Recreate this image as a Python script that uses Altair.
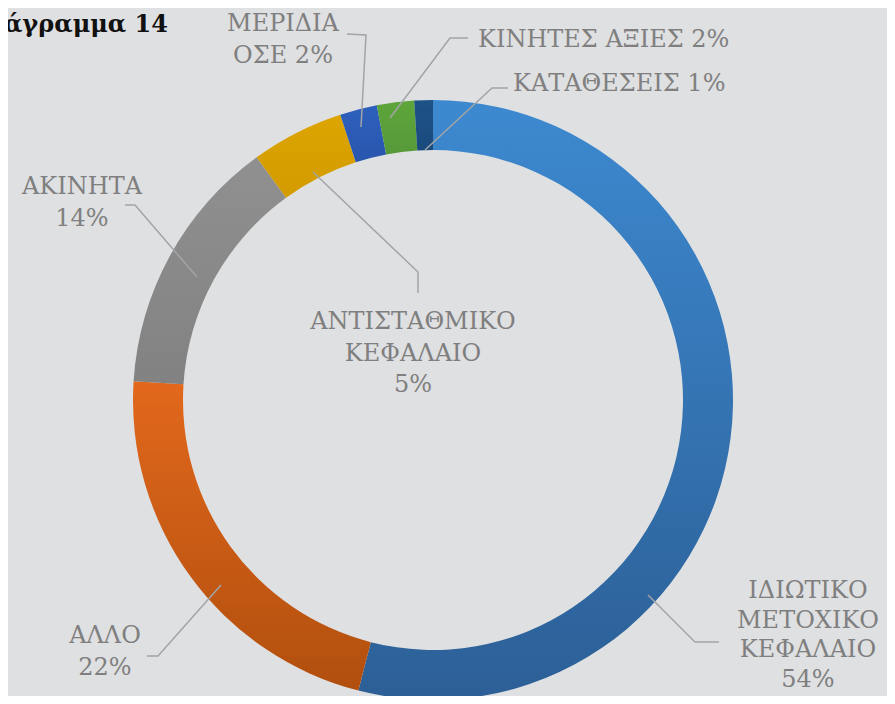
import altair as alt
import pandas as pd
import math

# ---- data ----
categories = ["ΙΔΙΩΤΙΚΟ ΜΕΤΟΧΙΚΟ ΚΕΦΑΛΑΙΟ", "ΑΛΛΟ", "ΑΚΙΝΗΤΑ",
              "ΑΝΤΙΣΤΑΘΜΙΚΟ ΚΕΦΑΛΑΙΟ", "ΜΕΡΙΔΙΑ ΟΣΕ", "ΚΙΝΗΤΕΣ ΑΞΙΕΣ", "ΚΑΤΑΘΕΣΕΙΣ"]
values = [54, 22, 14, 5, 2, 2, 1]
colors_top = ["#3d89d0", "#e2681c", "#909090", "#dca500", "#2d60bd", "#5ea53a", "#1d5288"]
colors_bottom = ["#2c5f96", "#b14f0e", "#828282", "#d39b00", "#2956ad", "#57993a", "#1a4a7c"]
title_text = "Διάγραμμα 14"

# ---- layout (page pixel coordinates) ----
W, H = 879, 688
CX, CY = 433, 400
label_mode = ["words", "words", "words", "words", "last_inline", "inline", "inline"]
label_pos = [(808, 598, "center"), (105, 643, "center"), (82, 194, "center"),
             (413, 329, "center"), (283, 31, "center"), (478, 47, "left"), (513, 91, "left")]
label_lh = [29.5, 31.5, 31.5, 31.5, 31.5, 31.5, 31.5]
leaders = [
    [(648, 595), (695, 642), (719, 642)],
    [(221, 585), (158, 656), (147, 656)],
    [(197, 277), (135, 205), (125, 205)],
    [(313, 172), (418, 272), (418, 293)],
    [(361, 127), (366, 35), (347, 34)],
    [(390, 118), (450, 38), (468, 38)],
    [(425, 150), (492, 88), (508, 88)],
]


def label_for(cat, v, mode):
    words = cat.split(" ")
    pct = f"{v}%"
    if mode == "words":
        return "\n".join(words + [pct])
    if mode == "last_inline":
        return "\n".join(words[:-1] + [words[-1] + " " + pct])
    return cat + " " + pct


slices = pd.DataFrame({"cat": categories, "value": values, "order": range(len(values))})
total = sum(values)

xs = alt.Scale(domain=[8, 8 + W], range=[0, W])
ys = alt.Scale(domain=[8, 8 + H], range=[0, H])
ts = alt.Scale(domain=[0, total], range=[0, 2 * math.pi])
FONT = "DejaVu Serif"

base = alt.Chart(slices).transform_window(
    cum="sum(value)", sort=[alt.SortField("order")], frame=[None, 0]
).transform_calculate(start="datum.cum - datum.value")

layers = []
for i in range(len(values)):
    grad = {"gradient": "linear", "x1": 0, "y1": 0, "x2": 0, "y2": 1,
            "stops": [{"offset": 0, "color": colors_top[i]}, {"offset": 1, "color": colors_bottom[i]}]}
    layers.append(
        base.transform_filter(alt.datum.order == i).mark_arc(
            outerRadius=300, innerRadius=250, fill=grad, stroke=None
        ).encode(
            theta=alt.Theta("start:Q", scale=ts),
            theta2="cum:Q",
            x=alt.value(CX - 8),
            y=alt.value(CY - 8),
        )
    )

lead_rows = []
for i, pts in enumerate(leaders):
    for j, (x, y) in enumerate(pts):
        lead_rows.append({"id": i, "k": j, "x": x, "y": y})
lead = pd.DataFrame(lead_rows)

layers.append(alt.Chart(lead).mark_line(color="#a3a4a6", strokeWidth=1.5).encode(
    x=alt.X("x:Q", scale=xs, axis=None),
    y=alt.Y("y:Q", scale=ys, axis=None),
    detail="id:N",
    order="k:Q",
))

for i in range(len(values)):
    x, y, align = label_pos[i]
    df = pd.DataFrame({"text": [label_for(categories[i], values[i], label_mode[i])], "x": [x], "y": [y]})
    layers.append(alt.Chart(df).mark_text(
        font=FONT, fontSize=24, color="#7f7f7f", align=align, baseline="alphabetic",
        lineBreak="\n", lineHeight=label_lh[i],
    ).encode(
        x=alt.X("x:Q", scale=xs, axis=None),
        y=alt.Y("y:Q", scale=ys, axis=None),
        text="text:N",
    ))

title_df = pd.DataFrame({"t": [title_text], "x": [168], "y": [32]})
layers.append(alt.Chart(title_df).mark_text(
    font=FONT, fontSize=24, fontWeight="bold", color="#111111", align="right", baseline="alphabetic"
).encode(
    x=alt.X("x:Q", scale=xs, axis=None),
    y=alt.Y("y:Q", scale=ys, axis=None),
    text="t:N",
))

chart = alt.layer(*layers).properties(
    width=W, height=H, padding=0, autosize=alt.AutoSizeParams(type="none"), background="#dfe0e2"
).configure_view(stroke=None, clip=False)

chart.save("out.html", embed_options={"renderer": "svg", "actions": False})
